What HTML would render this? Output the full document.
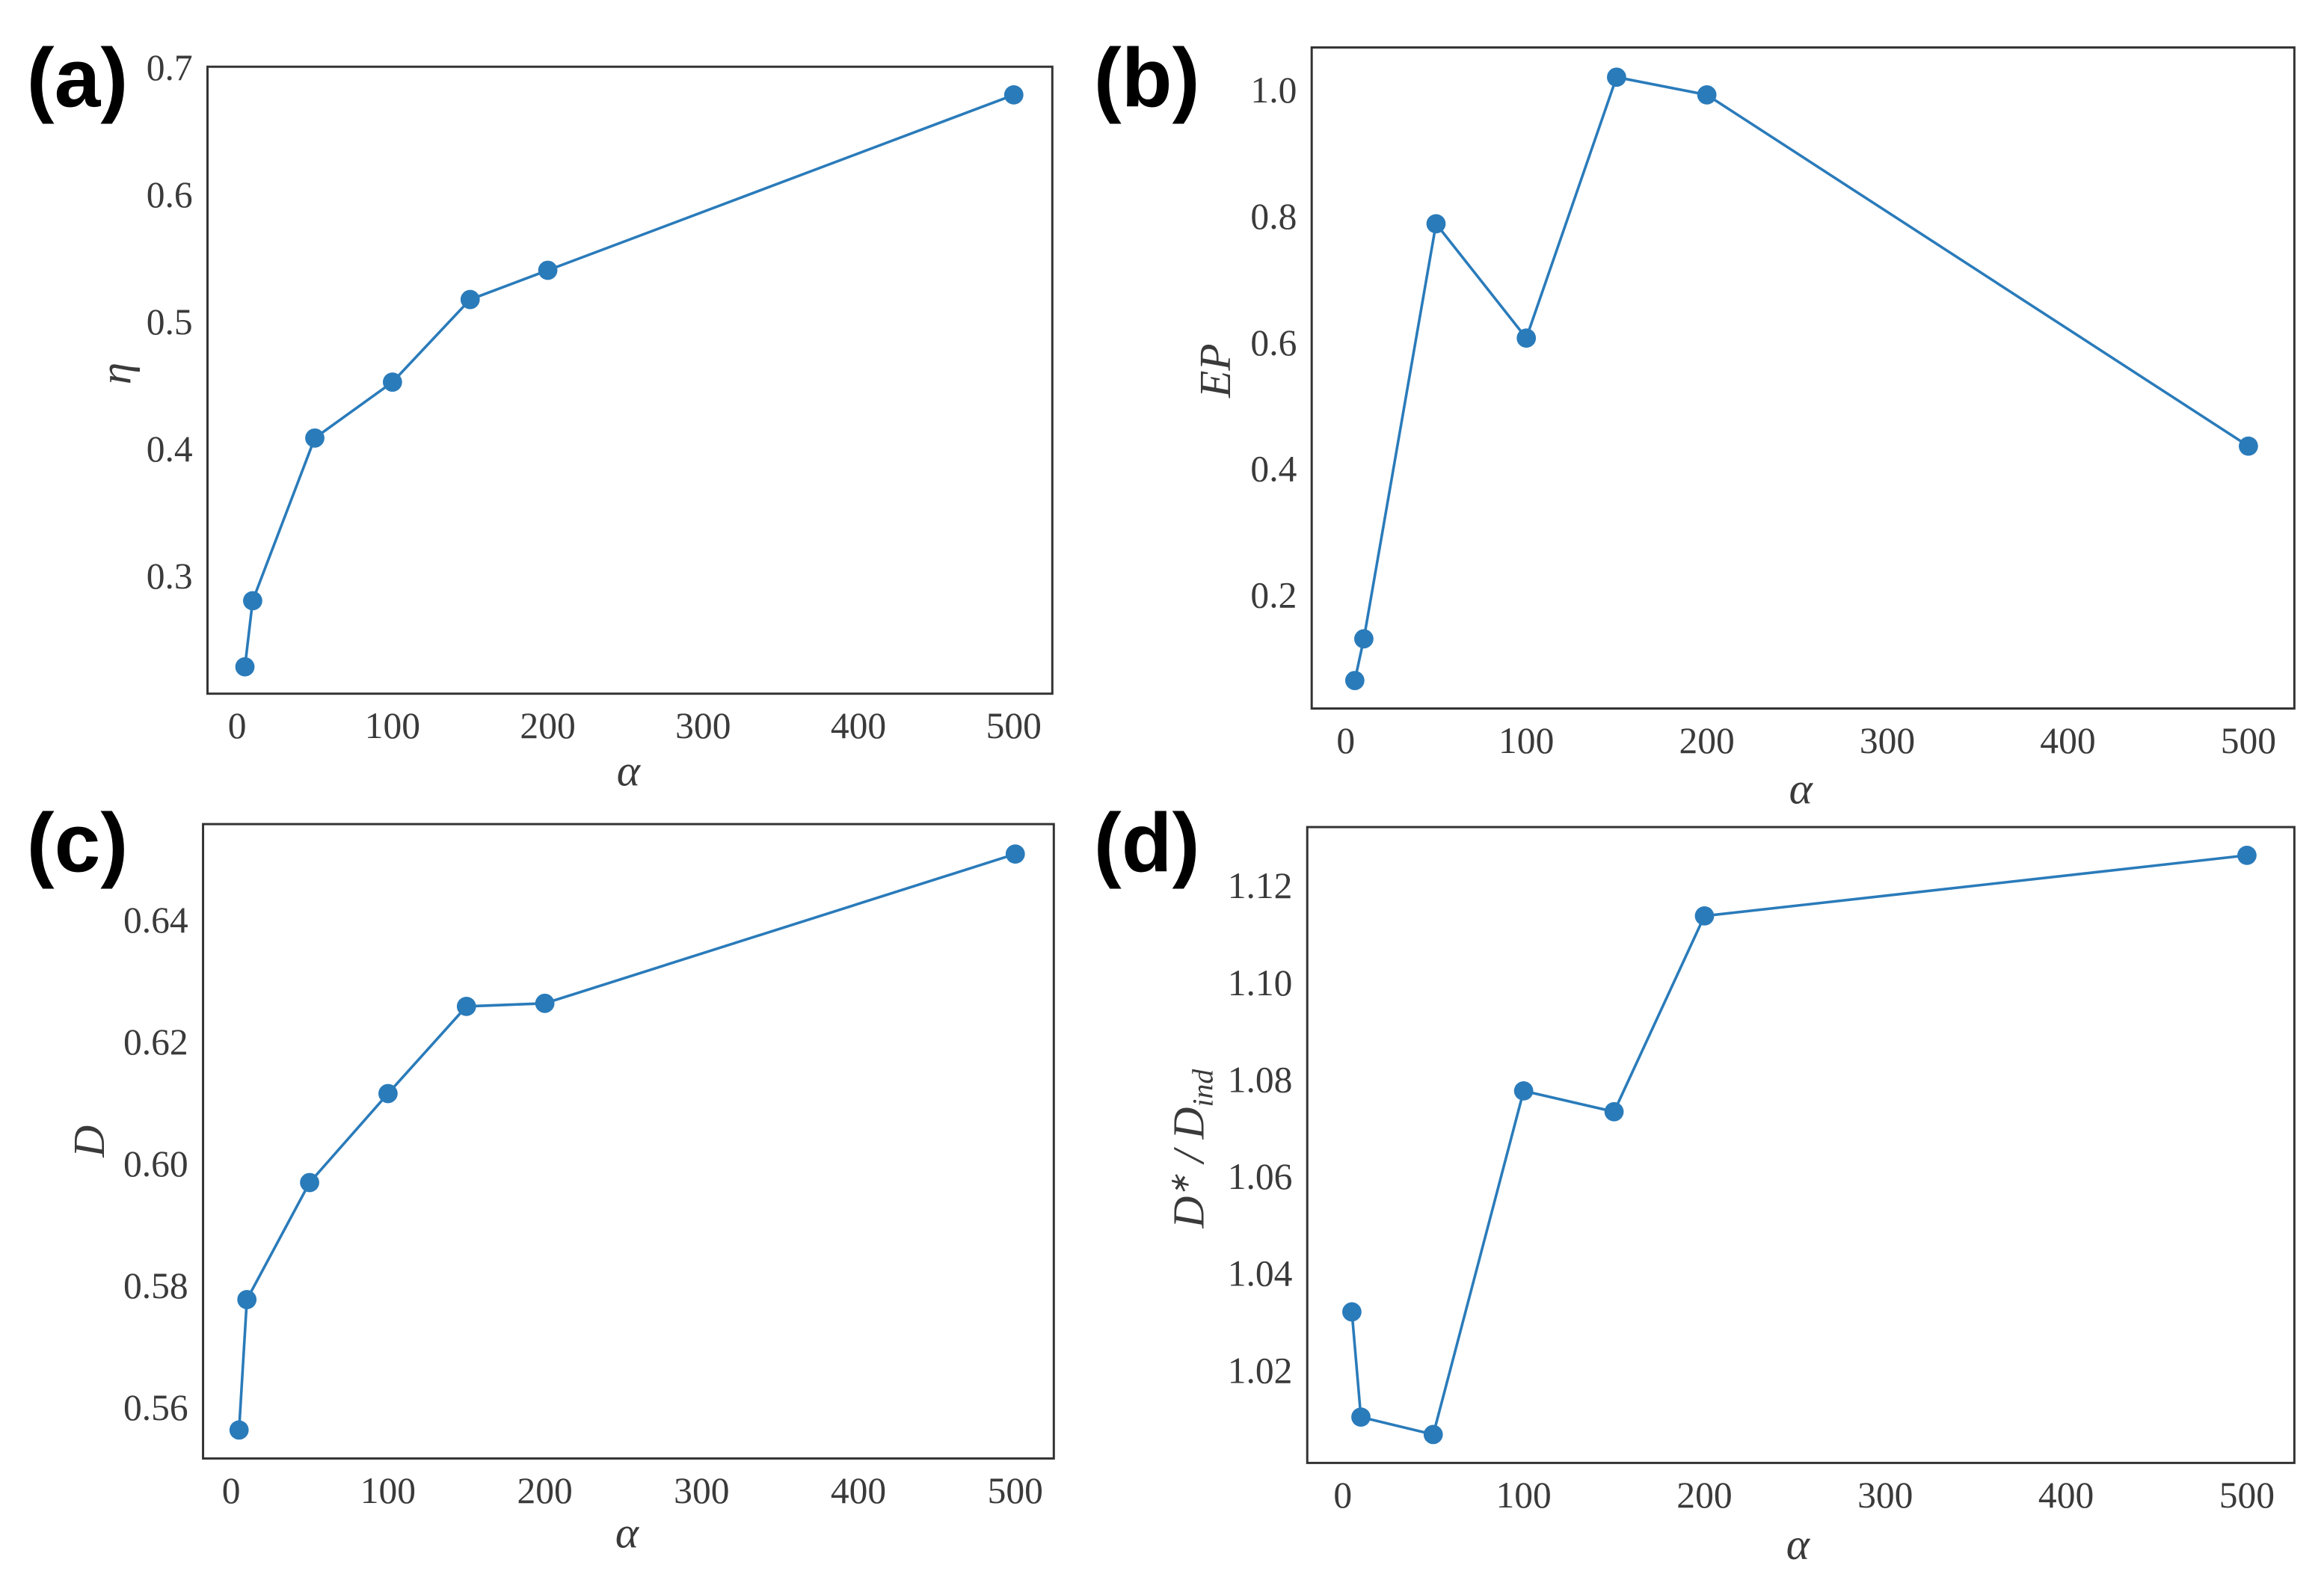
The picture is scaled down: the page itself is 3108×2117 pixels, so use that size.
<!DOCTYPE html>
<html><head><meta charset="utf-8"><style>
html,body{margin:0;padding:0;background:#fff;}
svg{display:block;}
text{font-family:"Liberation Serif",serif;fill:#3a3a3a;}
.lbl{font-family:"Liberation Sans",sans-serif;font-weight:bold;fill:#000;}
</style></head><body>
<svg id="fig" xmlns="http://www.w3.org/2000/svg" width="3108" height="2117" viewBox="0 0 1568 1068"></svg>
<script>
const alphas = [5, 10, 50, 100, 150, 200, 500];
const etaVals = [0.229, 0.281, 0.409, 0.453, 0.518, 0.541, 0.679];
const epVals = [0.066, 0.132, 0.789, 0.608, 1.021, 0.993, 0.437];
const dVals = [0.5564, 0.5778, 0.5970, 0.6116, 0.6259, 0.6264, 0.6509];
const ratioVals = [1.0322, 1.0105, 1.0069, 1.0778, 1.0735, 1.1139, 1.1264];
const xTicks = [0, 100, 200, 300, 400, 500];
const etaTicks = [0.3, 0.4, 0.5, 0.6, 0.7];
const etaTickLabels = ["0.3", "0.4", "0.5", "0.6", "0.7"];
const epTicks = [0.2, 0.4, 0.6, 0.8, 1.0];
const epTickLabels = ["0.2", "0.4", "0.6", "0.8", "1.0"];
const dTicks = [0.56, 0.58, 0.60, 0.62, 0.64];
const dTickLabels = ["0.56", "0.58", "0.60", "0.62", "0.64"];
const ratioTicks = [1.02, 1.04, 1.06, 1.08, 1.10, 1.12];
const ratioTickLabels = ["1.02", "1.04", "1.06", "1.08", "1.10", "1.12"];

const NS = "http://www.w3.org/2000/svg";
const svg = document.getElementById('fig');
function mk(tag, attrs, parent, txt) {
  const e = document.createElementNS(NS, tag);
  for (const k in attrs) e.setAttribute(k, attrs[k]);
  if (txt !== undefined) e.textContent = txt;
  (parent || svg).appendChild(e);
  return e;
}

function panel(cfg) {
  const g = mk('g', {});
  
  
  const sx = v => cfg.x0 + (cfg.x500 - cfg.x0) * v / 500;
  const sy = v => cfg.yA + (cfg.yB - cfg.yA) * (v - cfg.vA) / (cfg.vB - cfg.vA);
  const box = mk('rect', {x: cfg.box[0], y: cfg.box[1], width: cfg.box[2] - cfg.box[0], height: cfg.box[3] - cfg.box[1], fill: 'none', stroke: '#333', 'stroke-width': 1.5}, g);
  
  
  xTicks.forEach(t => {
    const tx = mk('text', {x: sx(t), y: cfg.box[3] + 30, 'text-anchor': 'middle', 'font-size': 25}, g, String(t));
    
    
  });
  cfg.yTicks.forEach((t, i) => {
    const ty = mk('text', {x: cfg.box[0] - 10, y: sy(t) + 8, 'text-anchor': 'end', 'font-size': 25}, g, cfg.yLabels[i]);
    
    
  });
  const xl = mk('text', {x: cfg.xlab[0], y: cfg.xlab[1], 'text-anchor': 'middle', 'font-size': 30, 'font-style': 'italic'}, g, 'α');
  
  
  const yl = mk('text', {x: 0, y: 0, 'text-anchor': 'middle', 'font-size': 30, 'font-style': 'italic', transform: `translate(${cfg.ylab[0]},${cfg.ylab[1]}) rotate(-90)`}, g);
  yl.innerHTML = cfg.ytitle;
  
  
  const pts = alphas.map((a, i) => sx(a).toFixed(2) + ',' + sy(cfg.vals[i]).toFixed(2)).join(' ');
  const line = mk('polyline', {points: pts, fill: 'none', stroke: '#2a7bba', 'stroke-width': 1.8}, g);
  
  
  alphas.forEach((a, i) => {
    const c = mk('circle', {cx: sx(a), cy: sy(cfg.vals[i]), r: 6.5, fill: '#2a7bba'}, g);
    
    
  });
  const pl = mk('text', {x: cfg.plab[0], y: cfg.plab[1], 'font-size': 56, class: 'lbl'}, g, cfg.ptxt);
  
  
}

panel({name: 'panel-a-eta', box: [140, 45, 710, 468], x0: 160, x500: 684, vA: 0.3, yA: 389, vB: 0.7, yB: 46,
  yTicks: etaTicks, yLabels: etaTickLabels, vals: etaVals, xlab: [424, 530], ylab: [88, 252], ytitle: 'η', plab: [18, 72], ptxt: '(a)'});
panel({name: 'panel-b-ep', box: [885, 32, 1548, 478], x0: 908, x500: 1517, vA: 0.2, yA: 402, vB: 1.0, yB: 61,
  yTicks: epTicks, yLabels: epTickLabels, vals: epVals, xlab: [1215, 542], ylab: [830, 250], ytitle: 'EP', plab: [738, 72], ptxt: '(b)'});
panel({name: 'panel-c-d', box: [137, 556, 711, 984], x0: 156, x500: 685, vA: 0.56, yA: 950, vB: 0.64, yB: 621,
  yTicks: dTicks, yLabels: dTickLabels, vals: dVals, xlab: [423, 1044], ylab: [70, 770], ytitle: 'D', plab: [18, 588], ptxt: '(c)'});
panel({name: 'panel-d-ratio', box: [882, 558, 1548, 987], x0: 906, x500: 1516, vA: 1.02, yA: 925, vB: 1.12, yB: 598,
  yTicks: ratioTicks, yLabels: ratioTickLabels, vals: ratioVals, xlab: [1213, 1052], ylab: [812, 775],
  ytitle: 'D<tspan font-size="18" dy="-10">∗</tspan><tspan dy="10"> / D</tspan><tspan font-size="20" dy="6">ind</tspan>', plab: [738, 588], ptxt: '(d)'});
</script>
</body></html>
